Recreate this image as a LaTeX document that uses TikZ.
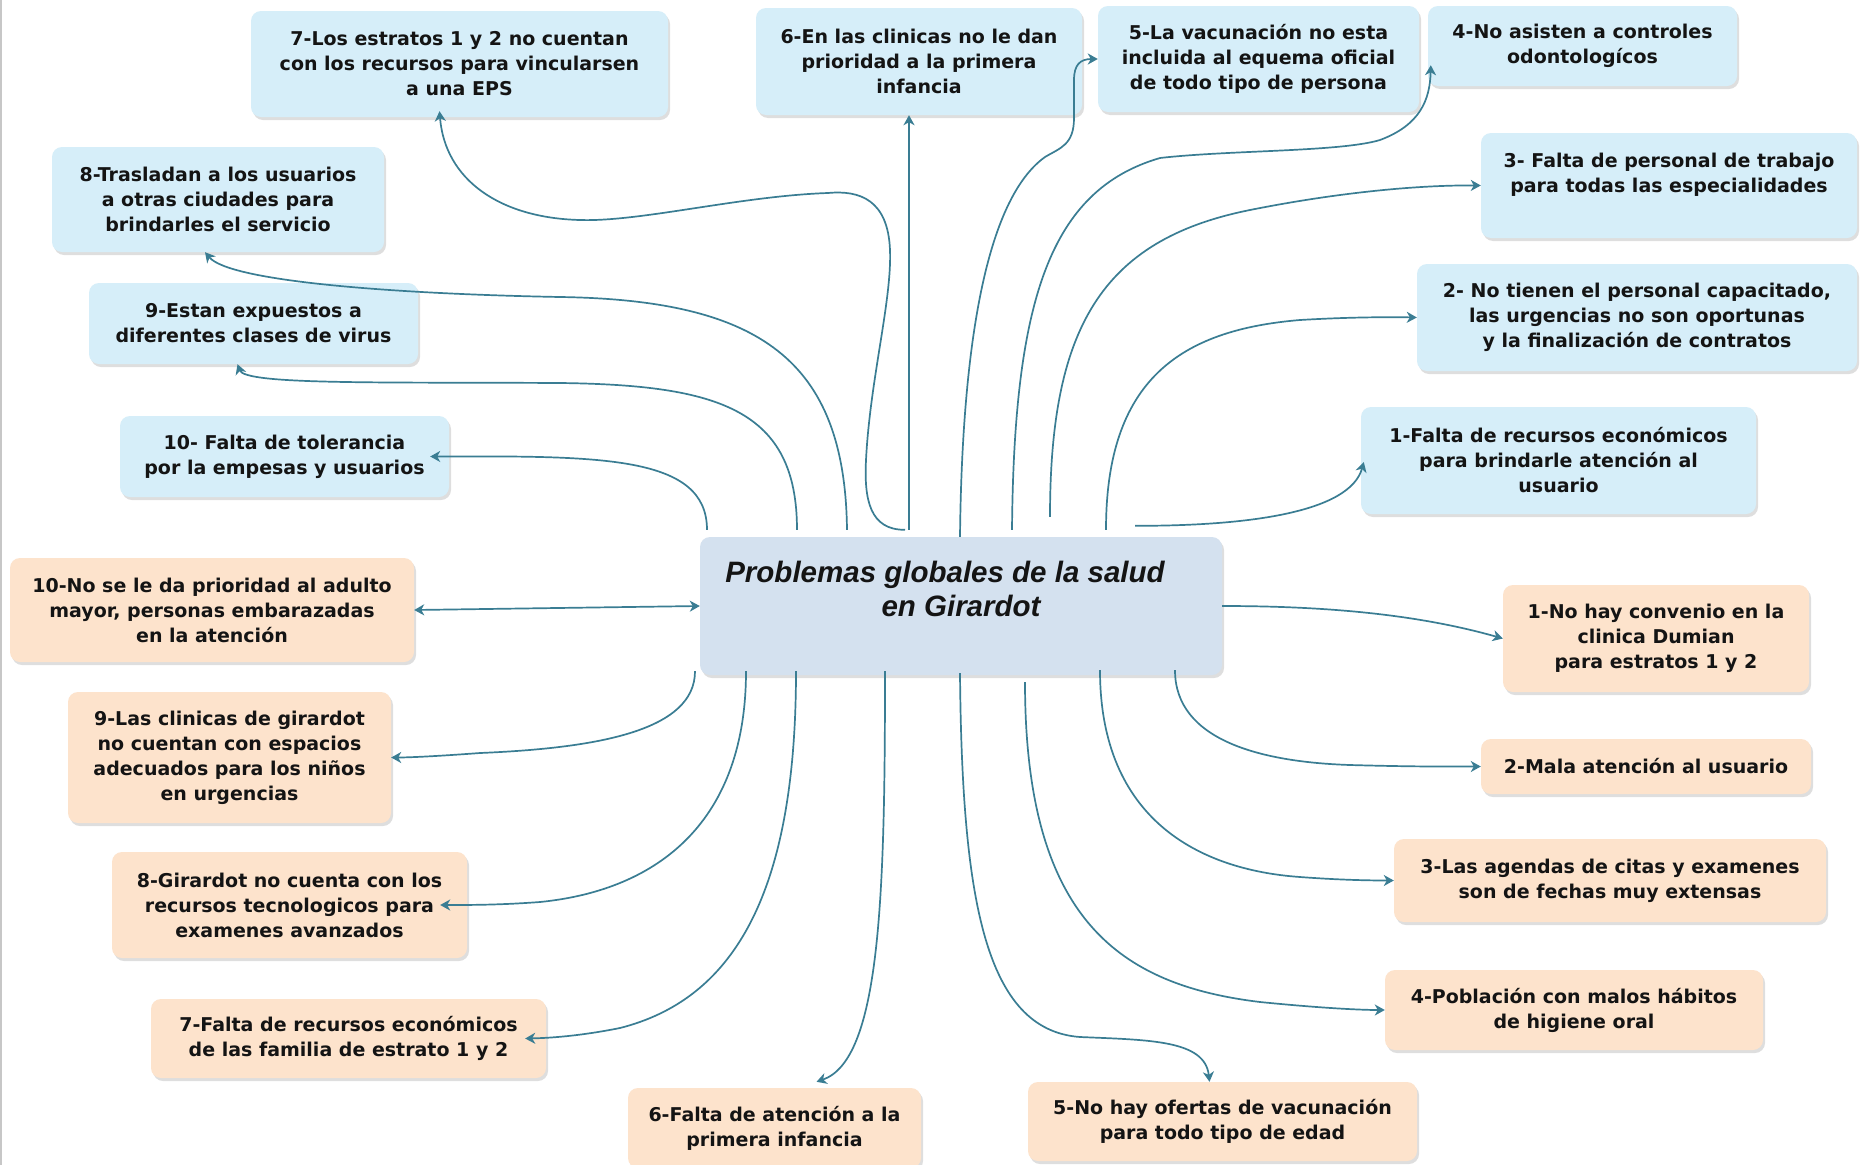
\documentclass[tikz,border=0pt]{standalone}
\usepackage{fontspec}
\setmainfont{DejaVu Sans}
\newfontfamily\titlefont{Liberation Sans}
\usetikzlibrary{arrows.meta,shadows}
\definecolor{linkc}{HTML}{3A7D93}
\definecolor{bluef}{HTML}{D6EEF9}
\definecolor{orgf}{HTML}{FDE3CC}
\definecolor{mainf}{HTML}{D4E1EF}

\begin{document}
\begin{tikzpicture}[x=1pt,y=-1pt,>={Stealth[length=10pt,width=11pt,inset=3pt]},
box/.style={rounded corners=10pt,align=center,inner sep=3pt,text=black!92,font=\bfseries\fontsize{19}{25}\selectfont,
  drop shadow={shadow xshift=2pt,shadow yshift=-3pt,fill=black,opacity=.13}},
bbox/.style={box,fill=bluef},
obox/.style={box,fill=orgf},
sz/.style 2 args={minimum width=#1pt,minimum height=#2pt},
flow/.style={->,line width=1.7pt,draw=linkc}]
\fill[white] (0,0) rectangle (1864,1165);
\useasboundingbox (0,0) rectangle (1864,1165);
\draw[black!22,line width=1.5pt] (1,0) -- (1,1165);

\node[box,fill=mainf,sz={522}{138},font=\titlefont\bfseries\itshape\fontsize{29.5}{34}\selectfont] (ctr) at (961,606) {Problemas globales de la salud\hspace*{32pt}\\en Girardot\hspace*{16pt}\\\mbox{}};

\node[bbox,sz={417}{106}] (b7) at (459.5,64) {7-Los estratos 1 y 2 no cuentan\\con los recursos para vincularsen\\a una EPS};
\node[bbox,sz={326}{107}] (b6) at (919,61.5) {6-En las clinicas no le dan\\prioridad a la primera\\infancia};
\node[bbox,sz={321}{106}] (b5) at (1258.5,59) {5-La vacunación no esta\\incluida al equema oficial\\de todo tipo de persona};
\node[bbox,sz={309}{80}] (b4) at (1582.5,46) {4-No asisten a controles\\odontologícos};
\node[bbox,sz={332}{105}] (b8) at (218,199.5) {8-Trasladan a los usuarios\\a otras ciudades para\\brindarles el servicio};
\node[bbox,sz={376}{105}] (b3) at (1669,185.5) {3- Falta de personal de trabajo\\para todas las especialidades\\\mbox{}};
\node[bbox,sz={329}{81}] (b9) at (253.5,323.5) {9-Estan expuestos a\\diferentes clases de virus};
\node[bbox,sz={440}{107}] (b2) at (1637,317.5) {2- No tienen el personal capacitado,\\las urgencias no son oportunas\\y la finalización de contratos};
\node[bbox,sz={329}{81}] (b10) at (284.5,456.5) {10- Falta de tolerancia\\por la empesas y usuarios};
\node[bbox,sz={395}{107}] (b1) at (1558.5,460.5) {1-Falta de recursos económicos\\para brindarle atención al\\usuario};

\node[obox,sz={404}{104}] (o10) at (212,610) {10-No se le da prioridad al adulto\\mayor, personas embarazadas\\en la atención};
\node[obox,sz={323}{131}] (o9) at (229.5,757.5) {9-Las clinicas de girardot\\no cuentan con espacios\\adecuados para los niños\\en urgencias};
\node[obox,sz={355}{106}] (o8) at (289.5,905) {8-Girardot no cuenta con los\\recursos tecnologicos para\\examenes avanzados};
\node[obox,sz={395}{79}] (o7) at (348.5,1038.5) {7-Falta de recursos económicos\\de las familia de estrato 1 y 2};
\node[obox,sz={293}{80}] (o6) at (774.5,1128) {6-Falta de atención a la\\primera infancia};
\node[obox,sz={389}{79}] (o5) at (1222.5,1121.5) {5-No hay ofertas de vacunación\\para todo tipo de edad};
\node[obox,sz={306}{107}] (o1) at (1656,638.5) {1-No hay convenio en la\\clinica Dumian\\para estratos 1 y 2};
\node[obox,sz={330}{55}] (o2) at (1646,766.5) {2-Mala atención al usuario};
\node[obox,sz={432}{83}] (o3) at (1610,880.5) {3-Las agendas de citas y examenes\\son de fechas muy extensas};
\node[obox,sz={378}{80}] (o4) at (1574,1010) {4-Población con malos hábitos\\de higiene oral};

\draw[flow] ([xshift=-254pt,yshift=7pt]ctr.north) .. controls (707,455) and (600,456) .. ([xshift=-19pt]b10.east);
\draw[flow] ([xshift=-164pt,yshift=7pt]ctr.north) .. controls (797,410) and (720,385) .. (560,383) .. controls (380,382) and (245,385) .. ([xshift=-16pt]b9.south);
\draw[flow] ([xshift=-114pt,yshift=7pt]ctr.north) .. controls (845,360) and (760,300) .. (560,297) .. controls (400,294) and (230,282) .. ([xshift=-13pt]b8.south);
\draw[flow] ([xshift=-56pt,yshift=7pt]ctr.north) .. controls (870,530) and (864,500) .. (866,460) .. controls (870,380) and (892,300) .. (890,250) .. controls (888,200) and (860,190) .. (828,193) .. controls (740,196) and (640,222) .. (580,220) .. controls (500,218) and (445,180) .. ([xshift=-20pt,yshift=6pt]b7.south);
\draw[flow] ([xshift=-52pt,yshift=7pt]ctr.north) -- ([xshift=-10pt]b6.south);
\draw[flow] ([xshift=-1pt]ctr.north) .. controls (962,350) and (985,200) .. (1045,157) .. controls (1060,148) and (1074,145) .. (1074,118) -- (1074,80) .. controls (1074,65) and (1080,59) .. (b5.west);
\draw[flow] ([xshift=51pt,yshift=7pt]ctr.north) .. controls (1014,300) and (1050,190) .. (1160,158) .. controls (1230,150) and (1340,152) .. (1380,140) .. controls (1420,125) and (1430,100) .. ([xshift=3pt,yshift=21pt]b4.south west);
\draw[flow] ([xshift=89pt,yshift=20pt]ctr.north) .. controls (1050,330) and (1100,240) .. (1250,210) .. controls (1340,192) and (1420,185) .. (b3.west);
\draw[flow] ([xshift=145pt,yshift=7pt]ctr.north) .. controls (1106,380) and (1180,330) .. (1300,320) .. controls (1350,317) and (1390,317) .. (b2.west);
\draw[flow] ([xshift=174pt,yshift=11pt]ctr.north) .. controls (1250,526) and (1350,512) .. ([xshift=3pt,yshift=-1.5pt]b1.west);

\draw[flow] (ctr.east) .. controls (1330,606) and (1420,615) .. (o1.west);
\draw[flow] ([xshift=214pt,yshift=5pt]ctr.south) .. controls (1175,740) and (1260,762) .. (1350,765) .. controls (1420,767) and (1460,766.5) .. (o2.west);
\draw[flow] ([xshift=139pt,yshift=5pt]ctr.south) .. controls (1100,820) and (1200,870) .. (1300,877) .. controls (1340,880) and (1370,880.5) .. (o3.west);
\draw[flow] ([xshift=64pt,yshift=-7pt]ctr.south) .. controls (1025,920) and (1120,985) .. (1260,1002) .. controls (1320,1008) and (1360,1010) .. (o4.west);
\draw[flow] ([xshift=-1pt,yshift=2pt]ctr.south) .. controls (962,900) and (985,1030) .. (1080,1037) .. controls (1150,1040) and (1205,1040) .. ([xshift=-13pt]o5.north);
\draw[flow] ([xshift=-76pt,yshift=4pt]ctr.south) .. controls (885,900) and (880,1060) .. ([xshift=42pt,yshift=6pt]o6.north);
\draw[flow] ([xshift=-165pt,yshift=4pt]ctr.south) .. controls (796,900) and (730,1000) .. (620,1028) .. controls (580,1036) and (550,1038) .. ([xshift=-21pt]o7.east);
\draw[flow] ([xshift=-215pt,yshift=4pt]ctr.south) .. controls (746,820) and (660,890) .. (540,902) .. controls (500,905) and (470,905) .. ([xshift=-27pt]o8.east);
\draw[flow] ([xshift=-266pt,yshift=4pt]ctr.south) .. controls (695,730) and (600,748) .. (480,753) .. controls (440,756) and (410,757.5) .. (o9.east);
\draw[flow,<->] (o10.east) -- (ctr.west);
\end{tikzpicture}
\end{document}
